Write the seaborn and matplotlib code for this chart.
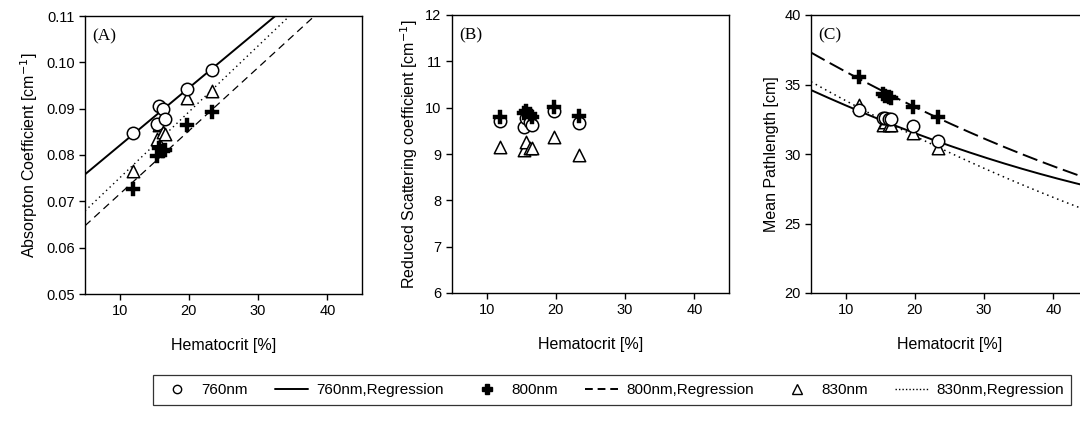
import numpy as np
import pandas as pd
import matplotlib
matplotlib.use("Agg")
import matplotlib.pyplot as plt
import seaborn as sns
from matplotlib.lines import Line2D

# ---------------- data ----------------
hematocrit = [12.0, 15.4, 15.7, 16.2, 16.6, 19.8, 23.3]

mua_760 = [0.0848, 0.0866, 0.0906, 0.0900, 0.0878, 0.0943, 0.0983]
mua_800 = [0.0727, 0.0798, 0.0815, 0.0808, 0.0810, 0.0865, 0.0892]
mua_830 = [0.0765, 0.0834, 0.0864, 0.0850, 0.0846, 0.0923, 0.0939]

mus_760 = [9.71, 9.58, 9.78, 9.70, 9.63, 9.92, 9.66]
mus_800 = [9.80, 9.88, 9.93, 9.86, 9.80, 10.01, 9.82]
mus_830 = [9.16, 9.09, 9.26, 9.12, 9.14, 9.36, 8.97]

path_760 = [33.2, 32.6, 32.6, 32.5, 32.5, 32.0, 30.9]
path_800 = [35.55, 34.3, 34.2, 34.1, 34.0, 33.4, 32.65]
path_830 = [33.5, 32.1, 32.3, 32.1, 32.1, 31.5, 30.4]

# regression coefficients (polynomial, increasing power)
mua_fit_760 = [0.0696, 0.001244]
mua_fit_800 = [0.0579, 0.001366]
mua_fit_830 = [0.0608, 0.001425]
path_fit_760 = [35.768, -0.24024, 0.001344]
path_fit_800 = [38.745, -0.29597, 0.001383]
path_fit_830 = [36.616, -0.28896, 0.001135]

hct_range = [5, 45]
x_ticks = [10, 20, 30, 40]

legend_labels = ["760nm", "760nm,Regression", "800nm", "800nm,Regression",
                 "830nm", "830nm,Regression"]

# ---------------- style ----------------
sns.set_theme(style="ticks")
plt.rcParams["font.family"] = ["Liberation Sans", "DejaVu Sans"]
plt.rcParams["axes.linewidth"] = 1.0
plt.rcParams["xtick.major.width"] = 1.0
plt.rcParams["ytick.major.width"] = 1.0
plt.rcParams["xtick.major.size"] = 4
plt.rcParams["ytick.major.size"] = 4
plt.rcParams["xtick.labelsize"] = 10.5
plt.rcParams["ytick.labelsize"] = 10.5
plt.rcParams["xtick.color"] = "black"
plt.rcParams["ytick.color"] = "black"
plt.rcParams["xtick.labelcolor"] = "black"
plt.rcParams["ytick.labelcolor"] = "black"
plt.rcParams["axes.labelcolor"] = "black"
plt.rcParams["text.color"] = "black"
plt.rcParams["axes.edgecolor"] = "black"

fig = plt.figure(figsize=(10.8, 4.29), dpi=100)
W, H = 1080, 429
def box(l, t, r, b):
    return [l / W, 1 - b / H, (r - l) / W, (b - t) / H]

axA = fig.add_axes(box(85, 16, 362, 294))
axB = fig.add_axes(box(452, 15, 729, 293))
axC = fig.add_axes(box(811, 15, 1088, 293))

grid = np.linspace(hct_range[0], hct_range[1], 300)

circle_kw = dict(marker="o", s=80, facecolors="white", edgecolor="black", linewidth=1.1, zorder=3)
plus_kw = dict(marker="P", s=90, color="black", edgecolor="black", linewidth=0.3, zorder=4)
tri_kw = dict(marker="^", s=80, facecolors="white", edgecolor="black", linewidth=1.1, zorder=3)

ls760 = "-"
ls830 = (0, (1, 2.5))

def fitline(ax, coefs, ls, lw):
    y = np.polynomial.polynomial.polyval(grid, coefs)
    sns.lineplot(x=grid, y=y, ax=ax, color="black", linestyle=ls, linewidth=lw,
                 sort=False, estimator=None)

def scatter(ax, yvals, kw):
    df = pd.DataFrame({"h": hematocrit, "v": yvals})
    sns.scatterplot(data=df, x="h", y="v", ax=ax, legend=False, **kw)

# Panel A
fitline(axA, mua_fit_760, ls760, 1.4)
fitline(axA, mua_fit_800, (0, (6, 4)), 0.9)
fitline(axA, mua_fit_830, ls830, 1.0)
scatter(axA, mua_830, tri_kw)
scatter(axA, mua_760, circle_kw)
scatter(axA, mua_800, plus_kw)
axA.set_ylim(0.05, 0.11)
axA.set_yticks(np.arange(0.05, 0.1101, 0.01))
axA.set_yticklabels([f"{v:.2f}" for v in np.arange(0.05, 0.1101, 0.01)])
axA.set_ylabel("Absorpton Coefficient [cm$^{\\mathsf{-1}}$]", fontsize=11.5)

# Panel B
scatter(axB, mus_830, tri_kw)
scatter(axB, mus_760, circle_kw)
scatter(axB, mus_800, plus_kw)
axB.set_ylim(6, 12)
axB.set_yticks(range(6, 13))
axB.set_ylabel("Reduced Scattering coefficient [cm$^{\\mathsf{-1}}$]", fontsize=11.5)

# Panel C
fitline(axC, path_fit_800, (0, (8, 3)), 1.4)
fitline(axC, path_fit_760, ls760, 1.4)
fitline(axC, path_fit_830, ls830, 1.1)
scatter(axC, path_830, tri_kw)
scatter(axC, path_760, circle_kw)
scatter(axC, path_800, plus_kw)
axC.set_ylim(20, 40)
axC.set_yticks(range(20, 41, 5))
axC.set_ylabel("Mean Pathlength [cm]", fontsize=11.5)

for ax, lab in zip([axA, axB, axC], ["(A)", "(B)", "(C)"]):
    ax.set_xlim(*hct_range)
    ax.set_xticks(x_ticks)
    ax.set_xlabel("Hematocrit [%]", fontsize=11.5, labelpad=14)
    ax.tick_params(direction="out", top=False, right=False)
    ax.text(0.025, 0.955, lab, transform=ax.transAxes, ha="left", va="top",
            fontsize=12.5, family=["Liberation Serif", "DejaVu Serif"])

handles = [
    Line2D([], [], marker="o", linestyle="none", markerfacecolor="white",
           markeredgecolor="black", markersize=6, markeredgewidth=1.0),
    Line2D([], [], color="black", linestyle=ls760, linewidth=1.4),
    Line2D([], [], marker="P", linestyle="none", color="black", markersize=7),
    Line2D([], [], color="black", linestyle=(0, (4, 2.5)), linewidth=1.4),
    Line2D([], [], marker="^", linestyle="none", markerfacecolor="white",
           markeredgecolor="black", markersize=7, markeredgewidth=1.0),
    Line2D([], [], color="black", linestyle=(0, (1, 1.5)), linewidth=1.0),
]
leg = fig.legend(handles, legend_labels, loc="center", ncol=6,
                 bbox_to_anchor=(612 / W, 1 - 390 / H), frameon=True,
                 fancybox=False, edgecolor="black", fontsize=11,
                 handlelength=2.2, handletextpad=0.5, columnspacing=1.75,
                 borderpad=0.5)
leg.get_frame().set_linewidth(0.9)

fig.savefig("out.png", dpi=100)
